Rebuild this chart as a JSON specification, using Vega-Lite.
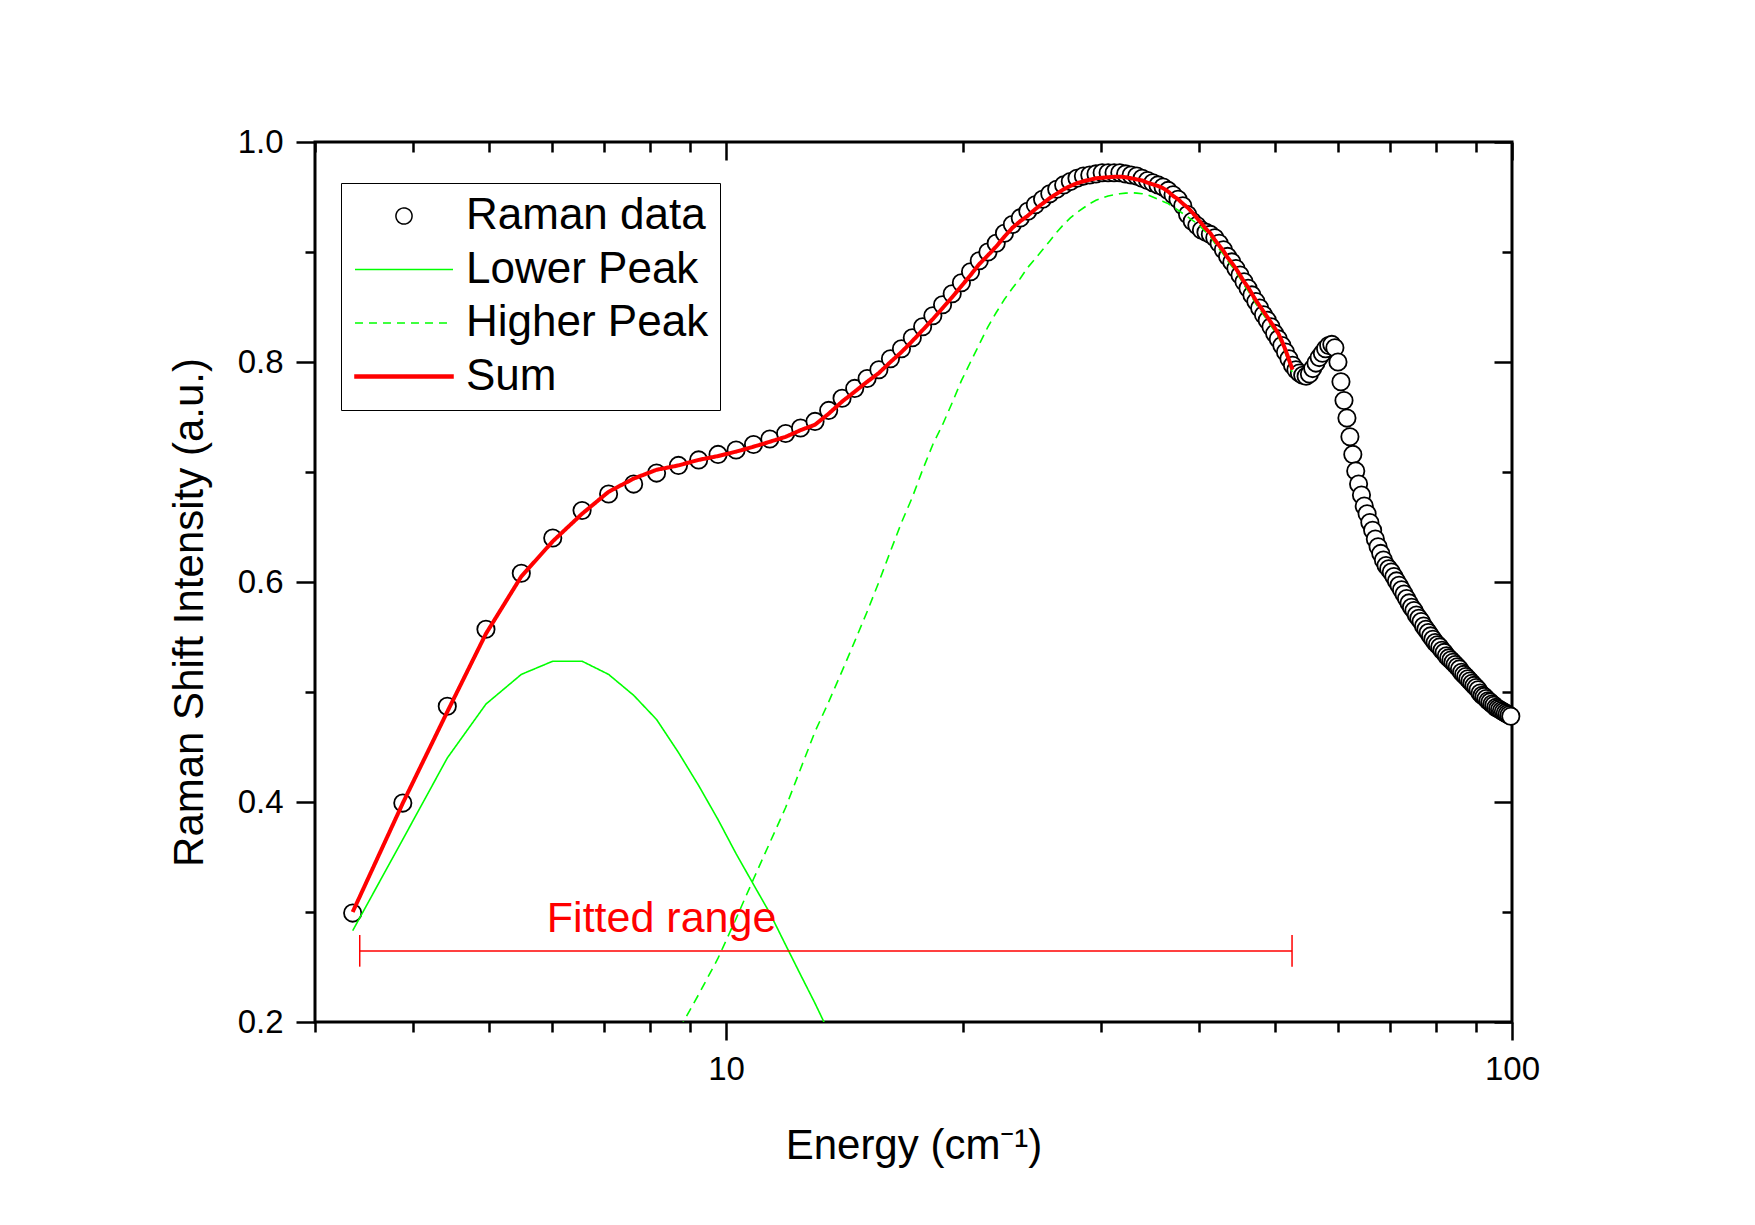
{
  "$schema": "https://vega.github.io/schema/vega-lite/v6.json",
  "width": 1197,
  "height": 880,
  "autosize": "none",
  "padding": {"left": 315, "top": 142, "right": 243, "bottom": 203},
  "background": "white",
  "config": {
    "view": {"stroke": "black", "strokeWidth": 3},
    "axis": {
      "grid": false,
      "domain": false,
      "tickColor": "black",
      "tickWidth": 2.5,
      "labelColor": "black",
      "labelFont": "Liberation Sans",
      "labelFontSize": 33,
      "titleFont": "Liberation Sans",
      "titleFontSize": 42,
      "titleFontWeight": "normal",
      "titleColor": "black",
      "labelOverlap": false,
      "labelFlush": false,
      "labelBound": false
    }
  },
  "datasets": {
    "raman": [
      {"e":3.35,"i":0.299},{"e":3.88,"i":0.399},{"e":4.42,"i":0.487},{"e":4.95,"i":0.557},{"e":5.49,"i":0.608},{"e":6.02,"i":0.640},{"e":6.56,"i":0.665},{"e":7.09,"i":0.680},{"e":7.63,"i":0.689},{"e":8.16,"i":0.699},
      {"e":8.70,"i":0.706},{"e":9.23,"i":0.711},{"e":9.77,"i":0.716},{"e":10.30,"i":0.720},{"e":10.84,"i":0.725},{"e":11.37,"i":0.730},{"e":11.91,"i":0.735},{"e":12.44,"i":0.740},{"e":12.98,"i":0.746},{"e":13.51,"i":0.756},
      {"e":14.05,"i":0.767},{"e":14.58,"i":0.776},{"e":15.12,"i":0.785},{"e":15.65,"i":0.793},{"e":16.19,"i":0.803},{"e":16.72,"i":0.812},{"e":17.26,"i":0.822},{"e":17.79,"i":0.832},{"e":18.33,"i":0.842},{"e":18.86,"i":0.852},
      {"e":19.40,"i":0.862},{"e":19.93,"i":0.872},{"e":20.47,"i":0.882},{"e":21.00,"i":0.892},{"e":21.54,"i":0.900},{"e":22.07,"i":0.908},{"e":22.61,"i":0.917},{"e":23.14,"i":0.925},{"e":23.68,"i":0.931},{"e":24.21,"i":0.937},
      {"e":24.75,"i":0.943},{"e":25.28,"i":0.948},{"e":25.82,"i":0.953},{"e":26.35,"i":0.957},{"e":26.89,"i":0.961},{"e":27.42,"i":0.964},{"e":27.96,"i":0.967},{"e":28.49,"i":0.969},{"e":29.03,"i":0.970},{"e":29.56,"i":0.971},
      {"e":30.10,"i":0.972},{"e":30.63,"i":0.972},{"e":31.17,"i":0.972},{"e":31.70,"i":0.972},{"e":32.24,"i":0.971},{"e":32.77,"i":0.970},{"e":33.31,"i":0.969},{"e":33.84,"i":0.967},{"e":34.38,"i":0.965},{"e":34.91,"i":0.963},
      {"e":35.45,"i":0.961},{"e":35.98,"i":0.959},{"e":36.52,"i":0.956},{"e":37.05,"i":0.952},{"e":37.59,"i":0.948},{"e":38.12,"i":0.942},{"e":38.66,"i":0.934},{"e":39.19,"i":0.928},{"e":39.73,"i":0.924},{"e":40.26,"i":0.920},
      {"e":40.80,"i":0.918},{"e":41.33,"i":0.916},{"e":41.87,"i":0.913},{"e":42.40,"i":0.908},{"e":42.94,"i":0.902},{"e":43.47,"i":0.896},{"e":44.01,"i":0.891},{"e":44.54,"i":0.885},{"e":45.08,"i":0.879},{"e":45.61,"i":0.873},
      {"e":46.15,"i":0.867},{"e":46.68,"i":0.861},{"e":47.22,"i":0.855},{"e":47.75,"i":0.849},{"e":48.29,"i":0.843},{"e":48.82,"i":0.838},{"e":49.36,"i":0.832},{"e":49.89,"i":0.826},{"e":50.43,"i":0.821},{"e":50.96,"i":0.815},
      {"e":51.50,"i":0.809},{"e":52.03,"i":0.803},{"e":52.57,"i":0.797},{"e":53.10,"i":0.793},{"e":53.64,"i":0.790},{"e":54.17,"i":0.788},{"e":54.71,"i":0.787},{"e":55.24,"i":0.789},{"e":55.78,"i":0.794},{"e":56.31,"i":0.799},
      {"e":56.85,"i":0.804},{"e":57.38,"i":0.808},{"e":57.92,"i":0.812},{"e":58.45,"i":0.815},{"e":58.99,"i":0.816},{"e":59.52,"i":0.813},{"e":60.06,"i":0.800},{"e":60.59,"i":0.782},{"e":61.13,"i":0.765},{"e":61.66,"i":0.749},
      {"e":62.20,"i":0.732},{"e":62.73,"i":0.716},{"e":63.27,"i":0.701},{"e":63.80,"i":0.689},{"e":64.34,"i":0.679},{"e":64.87,"i":0.669},{"e":65.41,"i":0.662},{"e":65.94,"i":0.654},{"e":66.48,"i":0.647},{"e":67.01,"i":0.639},
      {"e":67.55,"i":0.632},{"e":68.08,"i":0.626},{"e":68.62,"i":0.620},{"e":69.15,"i":0.615},{"e":69.69,"i":0.612},{"e":70.22,"i":0.609},{"e":70.76,"i":0.605},{"e":71.29,"i":0.601},{"e":71.83,"i":0.597},{"e":72.36,"i":0.593},
      {"e":72.90,"i":0.589},{"e":73.43,"i":0.585},{"e":73.97,"i":0.581},{"e":74.50,"i":0.577},{"e":75.04,"i":0.574},{"e":75.57,"i":0.570},{"e":76.11,"i":0.567},{"e":76.64,"i":0.564},{"e":77.18,"i":0.560},{"e":77.71,"i":0.557},
      {"e":78.25,"i":0.554},{"e":78.78,"i":0.551},{"e":79.32,"i":0.548},{"e":79.85,"i":0.545},{"e":80.39,"i":0.543},{"e":80.92,"i":0.541},{"e":81.46,"i":0.538},{"e":81.99,"i":0.536},{"e":82.53,"i":0.533},{"e":83.06,"i":0.531},
      {"e":83.60,"i":0.529},{"e":84.13,"i":0.527},{"e":84.67,"i":0.525},{"e":85.20,"i":0.523},{"e":85.74,"i":0.521},{"e":86.27,"i":0.518},{"e":86.81,"i":0.516},{"e":87.34,"i":0.514},{"e":87.88,"i":0.512},{"e":88.41,"i":0.510},
      {"e":88.95,"i":0.508},{"e":89.48,"i":0.506},{"e":90.02,"i":0.504},{"e":90.55,"i":0.502},{"e":91.09,"i":0.499},{"e":91.62,"i":0.497},{"e":92.16,"i":0.496},{"e":92.69,"i":0.494},{"e":93.23,"i":0.492},{"e":93.76,"i":0.491},
      {"e":94.30,"i":0.489},{"e":94.83,"i":0.488},{"e":95.37,"i":0.486},{"e":95.90,"i":0.485},{"e":96.44,"i":0.484},{"e":96.97,"i":0.483},{"e":97.51,"i":0.482},{"e":98.04,"i":0.481},{"e":98.58,"i":0.480},{"e":99.11,"i":0.479},
      {"e":99.65,"i":0.478}
    ],
    "curves": [
      {"s":"Lower Peak","e":3.35,"i":0.283},{"s":"Lower Peak","e":3.88,"i":0.366},{"s":"Lower Peak","e":4.42,"i":0.440},{"s":"Lower Peak","e":4.95,"i":0.489},{"s":"Lower Peak","e":5.49,"i":0.516},
      {"s":"Lower Peak","e":6.02,"i":0.528},{"s":"Lower Peak","e":6.56,"i":0.528},{"s":"Lower Peak","e":7.09,"i":0.516},{"s":"Lower Peak","e":7.63,"i":0.497},{"s":"Lower Peak","e":8.16,"i":0.475},
      {"s":"Lower Peak","e":8.70,"i":0.445},{"s":"Lower Peak","e":9.23,"i":0.415},{"s":"Lower Peak","e":9.77,"i":0.384},{"s":"Lower Peak","e":10.30,"i":0.353},{"s":"Lower Peak","e":10.84,"i":0.325},
      {"s":"Lower Peak","e":11.37,"i":0.299},{"s":"Lower Peak","e":11.91,"i":0.270},{"s":"Lower Peak","e":12.44,"i":0.243},{"s":"Lower Peak","e":12.98,"i":0.217},{"s":"Lower Peak","e":13.51,"i":0.191},
      {"s":"Higher Peak","e":8.16,"i":0.158},{"s":"Higher Peak","e":8.70,"i":0.192},{"s":"Higher Peak","e":9.23,"i":0.225},{"s":"Higher Peak","e":9.77,"i":0.258},{"s":"Higher Peak","e":10.30,"i":0.294},
      {"s":"Higher Peak","e":10.84,"i":0.330},{"s":"Higher Peak","e":11.37,"i":0.363},{"s":"Higher Peak","e":11.91,"i":0.395},{"s":"Higher Peak","e":12.44,"i":0.430},{"s":"Higher Peak","e":12.98,"i":0.464},
      {"s":"Higher Peak","e":13.51,"i":0.491},{"s":"Higher Peak","e":14.05,"i":0.519},{"s":"Higher Peak","e":14.58,"i":0.546},{"s":"Higher Peak","e":15.12,"i":0.573},{"s":"Higher Peak","e":15.65,"i":0.600},
      {"s":"Higher Peak","e":16.19,"i":0.628},{"s":"Higher Peak","e":16.72,"i":0.654},{"s":"Higher Peak","e":17.26,"i":0.677},{"s":"Higher Peak","e":17.79,"i":0.702},{"s":"Higher Peak","e":18.33,"i":0.725},
      {"s":"Higher Peak","e":18.86,"i":0.743},{"s":"Higher Peak","e":19.40,"i":0.763},{"s":"Higher Peak","e":19.93,"i":0.783},{"s":"Higher Peak","e":20.47,"i":0.800},{"s":"Higher Peak","e":21.00,"i":0.816},
      {"s":"Higher Peak","e":21.54,"i":0.832},{"s":"Higher Peak","e":22.07,"i":0.845},{"s":"Higher Peak","e":22.61,"i":0.857},{"s":"Higher Peak","e":23.14,"i":0.867},{"s":"Higher Peak","e":23.68,"i":0.876},
      {"s":"Higher Peak","e":24.21,"i":0.886},{"s":"Higher Peak","e":24.75,"i":0.894},{"s":"Higher Peak","e":25.28,"i":0.902},{"s":"Higher Peak","e":25.82,"i":0.910},{"s":"Higher Peak","e":26.35,"i":0.918},
      {"s":"Higher Peak","e":26.89,"i":0.925},{"s":"Higher Peak","e":27.42,"i":0.931},{"s":"Higher Peak","e":27.96,"i":0.936},{"s":"Higher Peak","e":28.49,"i":0.940},{"s":"Higher Peak","e":29.03,"i":0.944},
      {"s":"Higher Peak","e":29.56,"i":0.947},{"s":"Higher Peak","e":30.10,"i":0.949},{"s":"Higher Peak","e":30.63,"i":0.951},{"s":"Higher Peak","e":31.17,"i":0.952},{"s":"Higher Peak","e":31.70,"i":0.953},
      {"s":"Higher Peak","e":32.24,"i":0.9535},{"s":"Higher Peak","e":32.77,"i":0.954},{"s":"Higher Peak","e":33.31,"i":0.9535},{"s":"Higher Peak","e":33.84,"i":0.953},{"s":"Higher Peak","e":34.38,"i":0.952},
      {"s":"Higher Peak","e":34.91,"i":0.950},{"s":"Higher Peak","e":35.45,"i":0.948},{"s":"Higher Peak","e":35.98,"i":0.946},{"s":"Higher Peak","e":36.52,"i":0.944},{"s":"Higher Peak","e":37.05,"i":0.941},
      {"s":"Higher Peak","e":37.59,"i":0.938},{"s":"Higher Peak","e":38.12,"i":0.935},{"s":"Higher Peak","e":38.66,"i":0.932},{"s":"Higher Peak","e":39.19,"i":0.929},{"s":"Higher Peak","e":39.73,"i":0.926},
      {"s":"Higher Peak","e":40.26,"i":0.922},{"s":"Higher Peak","e":40.80,"i":0.918},{"s":"Higher Peak","e":41.33,"i":0.914},{"s":"Higher Peak","e":41.87,"i":0.908},{"s":"Higher Peak","e":42.40,"i":0.903},
      {"s":"Higher Peak","e":42.94,"i":0.898},{"s":"Higher Peak","e":43.47,"i":0.892},{"s":"Higher Peak","e":44.01,"i":0.887},{"s":"Higher Peak","e":44.54,"i":0.882},{"s":"Higher Peak","e":45.08,"i":0.876},
      {"s":"Higher Peak","e":45.61,"i":0.870},{"s":"Higher Peak","e":46.15,"i":0.865},{"s":"Higher Peak","e":46.68,"i":0.859},{"s":"Higher Peak","e":47.22,"i":0.853},{"s":"Higher Peak","e":47.75,"i":0.848},
      {"s":"Higher Peak","e":48.29,"i":0.843},{"s":"Higher Peak","e":48.82,"i":0.838},{"s":"Higher Peak","e":49.36,"i":0.833},{"s":"Higher Peak","e":49.89,"i":0.828},{"s":"Higher Peak","e":50.43,"i":0.823},
      {"s":"Higher Peak","e":50.96,"i":0.816},{"s":"Higher Peak","e":51.50,"i":0.808},{"s":"Higher Peak","e":52.03,"i":0.799},{"s":"Higher Peak","e":52.57,"i":0.790},
      {"s":"Sum","e":3.35,"i":0.300},{"s":"Sum","e":3.88,"i":0.399},{"s":"Sum","e":4.42,"i":0.482},{"s":"Sum","e":4.95,"i":0.553},{"s":"Sum","e":5.49,"i":0.605},
      {"s":"Sum","e":6.02,"i":0.637},{"s":"Sum","e":6.56,"i":0.662},{"s":"Sum","e":7.09,"i":0.682},{"s":"Sum","e":7.63,"i":0.694},{"s":"Sum","e":8.16,"i":0.702},
      {"s":"Sum","e":8.70,"i":0.706},{"s":"Sum","e":9.23,"i":0.711},{"s":"Sum","e":9.77,"i":0.7145},{"s":"Sum","e":10.30,"i":0.7185},{"s":"Sum","e":10.84,"i":0.723},
      {"s":"Sum","e":11.37,"i":0.7275},{"s":"Sum","e":11.91,"i":0.732},{"s":"Sum","e":12.44,"i":0.738},{"s":"Sum","e":12.98,"i":0.743},{"s":"Sum","e":13.51,"i":0.753},
      {"s":"Sum","e":14.05,"i":0.764},{"s":"Sum","e":14.58,"i":0.773},{"s":"Sum","e":15.12,"i":0.782},{"s":"Sum","e":15.65,"i":0.790},{"s":"Sum","e":16.19,"i":0.800},
      {"s":"Sum","e":16.72,"i":0.809},{"s":"Sum","e":17.26,"i":0.819},{"s":"Sum","e":17.79,"i":0.829},{"s":"Sum","e":18.33,"i":0.839},{"s":"Sum","e":18.86,"i":0.849},
      {"s":"Sum","e":19.40,"i":0.859},{"s":"Sum","e":19.93,"i":0.869},{"s":"Sum","e":20.47,"i":0.879},{"s":"Sum","e":21.00,"i":0.889},{"s":"Sum","e":21.54,"i":0.897},
      {"s":"Sum","e":22.07,"i":0.905},{"s":"Sum","e":22.61,"i":0.914},{"s":"Sum","e":23.14,"i":0.922},{"s":"Sum","e":23.68,"i":0.928},{"s":"Sum","e":24.21,"i":0.933},
      {"s":"Sum","e":24.75,"i":0.939},{"s":"Sum","e":25.28,"i":0.944},{"s":"Sum","e":25.82,"i":0.949},{"s":"Sum","e":26.35,"i":0.953},{"s":"Sum","e":26.89,"i":0.957},
      {"s":"Sum","e":27.42,"i":0.960},{"s":"Sum","e":27.96,"i":0.9625},{"s":"Sum","e":28.49,"i":0.9643},{"s":"Sum","e":29.03,"i":0.9657},{"s":"Sum","e":29.56,"i":0.967},
      {"s":"Sum","e":30.10,"i":0.9675},{"s":"Sum","e":30.63,"i":0.968},{"s":"Sum","e":31.17,"i":0.9683},{"s":"Sum","e":31.70,"i":0.9685},{"s":"Sum","e":32.24,"i":0.968},
      {"s":"Sum","e":32.77,"i":0.967},{"s":"Sum","e":33.31,"i":0.966},{"s":"Sum","e":33.84,"i":0.965},{"s":"Sum","e":34.38,"i":0.963},{"s":"Sum","e":34.91,"i":0.9615},
      {"s":"Sum","e":35.45,"i":0.960},{"s":"Sum","e":35.98,"i":0.958},{"s":"Sum","e":36.52,"i":0.955},{"s":"Sum","e":37.05,"i":0.951},{"s":"Sum","e":37.59,"i":0.948},
      {"s":"Sum","e":38.12,"i":0.944},{"s":"Sum","e":38.66,"i":0.9405},{"s":"Sum","e":39.19,"i":0.936},{"s":"Sum","e":39.73,"i":0.931},{"s":"Sum","e":40.26,"i":0.926},
      {"s":"Sum","e":40.80,"i":0.921},{"s":"Sum","e":41.33,"i":0.917},{"s":"Sum","e":41.87,"i":0.911},{"s":"Sum","e":42.40,"i":0.906},{"s":"Sum","e":42.94,"i":0.901},
      {"s":"Sum","e":43.47,"i":0.895},{"s":"Sum","e":44.01,"i":0.890},{"s":"Sum","e":44.54,"i":0.885},{"s":"Sum","e":45.08,"i":0.879},{"s":"Sum","e":45.61,"i":0.873},
      {"s":"Sum","e":46.15,"i":0.868},{"s":"Sum","e":46.68,"i":0.862},{"s":"Sum","e":47.22,"i":0.856},{"s":"Sum","e":47.75,"i":0.851},{"s":"Sum","e":48.29,"i":0.846},
      {"s":"Sum","e":48.82,"i":0.841},{"s":"Sum","e":49.36,"i":0.836},{"s":"Sum","e":49.89,"i":0.831},{"s":"Sum","e":50.43,"i":0.826},{"s":"Sum","e":50.96,"i":0.819},
      {"s":"Sum","e":51.50,"i":0.811},{"s":"Sum","e":52.03,"i":0.802},{"s":"Sum","e":52.57,"i":0.793}
    ],
    "range": [{"e1": 3.42, "e2": 52.5, "i": 0.2645}],
    "caps": [
      {"e": 3.42, "i1": 0.2503, "i2": 0.2791},
      {"e": 52.5, "i1": 0.2503, "i2": 0.2791}
    ],
    "note": [{"e": 8.28, "i": 0.282, "t": "Fitted range"}]
  },
  "resolve": {"axis": {"x": "independent", "y": "independent"}},
  "layer": [
    {
      "data": {"name": "raman"},
      "mark": {"type": "point", "shape": "circle", "filled": true, "fill": "white", "stroke": "black", "strokeWidth": 1.8, "size": 300, "opacity": 1},
      "encoding": {
        "x": {
          "field": "e", "type": "quantitative",
          "scale": {"type": "log", "domain": [3, 100], "nice": false},
          "axis": {
            "orient": "bottom",
            "values": [10, 100],
            "format": "d",
            "tickSize": 18,
            "labelPadding": 13,
            "title": "Energy (cm⁻¹)",
            "titleX": 598.5,
            "titleY": 136,
            "titleAlign": "center",
            "titleBaseline": "alphabetic"
          }
        },
        "y": {
          "field": "i", "type": "quantitative",
          "scale": {"domain": [0.2, 1.0], "nice": false, "zero": false},
          "axis": {
            "orient": "left",
            "values": [0.2, 0.4, 0.6, 0.8, 1.0],
            "format": ".1f",
            "tickSize": 19,
            "labelPadding": 13,
            "title": "Raman Shift Intensity (a.u.)",
            "titleX": -113,
            "titleY": 470,
            "titleAngle": 270,
            "titleAlign": "center",
            "titleBaseline": "alphabetic"
          }
        }
      }
    },
    {
      "data": {"name": "curves"},
      "mark": {"type": "line", "clip": true},
      "encoding": {
        "x": {
          "field": "e", "type": "quantitative",
          "scale": {"type": "log", "domain": [3, 100], "nice": false},
          "axis": {"orient": "top", "values": [10, 100], "tickSize": 18, "offset": -18, "labels": false, "title": null}
        },
        "y": {
          "field": "i", "type": "quantitative",
          "scale": {"domain": [0.2, 1.0], "nice": false, "zero": false},
          "axis": {"orient": "right", "values": [0.2, 0.4, 0.6, 0.8, 1.0], "tickSize": 18, "offset": -18, "labels": false, "title": null}
        },
        "color": {
          "field": "s", "type": "nominal",
          "scale": {"domain": ["Raman data", "Lower Peak", "Higher Peak", "Sum"], "range": ["black", "#00ff00", "#00ff00", "#ff0000"]},
          "legend": {
            "title": null,
            "orient": "none",
            "legendX": 26,
            "legendY": 41,
            "direction": "vertical",
            "padding": 11,
            "strokeColor": "black",
            "fillColor": "white",
            "symbolType": "circle",
            "symbolSize": 260,
            "symbolStrokeWidth": 1.5,
            "symbolOffset": 30,
            "labelOffset": 40,
            "rowPadding": 9.5,
            "labelFont": "Liberation Sans",
            "labelFontSize": 44,
            "labelColor": "black",
            "labelLimit": 600,
            "labelBaseline": "middle",
            "encode": {
              "symbols": {
                "update": {
                  "shape": {"signal": "datum.value == 'Raman data' ? 'circle' : datum.value == 'Sum' ? 'M-6.08,-0.2L6.08,-0.2L6.08,0.2L-6.08,0.2Z' : 'M-6.08,0L6.08,0'"},
                  "fill": {"signal": "datum.value == 'Raman data' ? 'white' : datum.value == 'Sum' ? '#ff0000' : 'transparent'"},
                  "stroke": {"signal": "datum.value == 'Raman data' ? 'black' : datum.value == 'Sum' ? '#ff0000' : '#00ff00'"},
                  "strokeDash": {"signal": "datum.value == 'Higher Peak' ? [8, 6] : [1, 0]"},
                  "opacity": {"value": 1}
                }
              }
            }
          }
        },
        "strokeDash": {"condition": {"test": "datum.s == 'Higher Peak'", "value": [9, 6]}, "value": [1, 0]},
        "strokeWidth": {"condition": {"test": "datum.s == 'Sum'", "value": 4}, "value": 1.6}
      }
    },
    {
      "data": {"name": "range"},
      "mark": {"type": "rule", "color": "#ff0000", "strokeWidth": 1.5},
      "encoding": {
        "x": {
          "field": "e1", "type": "quantitative",
          "scale": {"type": "log", "domain": [3, 100], "nice": false},
          "axis": {"orient": "bottom", "values": [3, 4, 5, 6, 7, 8, 9, 20, 30, 40, 50, 60, 70, 80, 90], "tickSize": 10, "labels": false, "title": null}
        },
        "x2": {"field": "e2"},
        "y": {
          "field": "i", "type": "quantitative",
          "scale": {"domain": [0.2, 1.0], "nice": false, "zero": false},
          "axis": {"orient": "left", "values": [0.3, 0.5, 0.7, 0.9], "tickSize": 10, "labels": false, "title": null}
        }
      }
    },
    {
      "data": {"name": "caps"},
      "mark": {"type": "rule", "color": "#ff0000", "strokeWidth": 1.5},
      "encoding": {
        "x": {
          "field": "e", "type": "quantitative",
          "scale": {"type": "log", "domain": [3, 100], "nice": false},
          "axis": {"orient": "top", "values": [3, 4, 5, 6, 7, 8, 9, 20, 30, 40, 50, 60, 70, 80, 90], "tickSize": 10, "offset": -10, "labels": false, "title": null}
        },
        "y": {
          "field": "i1", "type": "quantitative",
          "scale": {"domain": [0.2, 1.0], "nice": false, "zero": false},
          "axis": {"orient": "right", "values": [0.3, 0.5, 0.7, 0.9], "tickSize": 10, "offset": -10, "labels": false, "title": null}
        },
        "y2": {"field": "i2"}
      }
    },
    {
      "data": {"name": "note"},
      "mark": {"type": "text", "color": "#ff0000", "font": "Liberation Sans", "fontSize": 43, "align": "center", "baseline": "alphabetic"},
      "encoding": {
        "x": {"field": "e", "type": "quantitative", "scale": {"type": "log", "domain": [3, 100], "nice": false}, "axis": null},
        "y": {"field": "i", "type": "quantitative", "scale": {"domain": [0.2, 1.0], "nice": false, "zero": false}, "axis": null},
        "text": {"field": "t"}
      }
    }
  ]
}
